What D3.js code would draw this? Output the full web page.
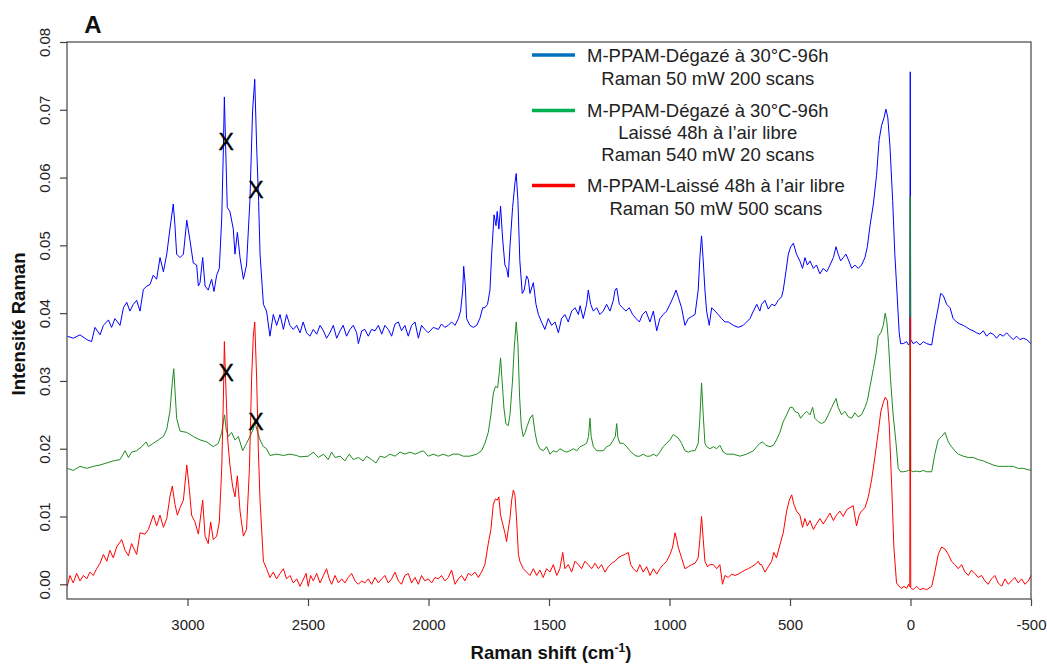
<!DOCTYPE html>
<html><head><meta charset="utf-8">
<script src="https://cdn.jsdelivr.net/npm/d3@7"></script>
<style>
body{margin:0;background:#fff;}
svg{display:block;font-family:"Liberation Sans",Arial,sans-serif;}
</style></head>
<body><svg id="c" width="1047" height="664"></svg>
<script>
// Raman shift (cm-1) / intensity pairs
const blueSeries = [
[3499,0.0366],[3474,0.0363],[3446,0.0368],[3418,0.0361],[3398,0.0358],[3384,0.0379],[3363,0.0368],[3349,0.0382],[3328,0.0390],[3315,0.0379],[3301,0.0392],[3280,0.0382],[3266,0.0408],[3252,0.0416],[3239,0.0403],[3225,0.0413],[3211,0.0419],[3197,0.0403],[3183,0.0435],[3169,0.0440],[3156,0.0442],[3142,0.0456],[3128,0.0450],[3114,0.0482],[3100,0.0461],[3086,0.0487],[3073,0.0524],[3059,0.0561],[3052,0.0529],[3045,0.0487],[3031,0.0482],[3017,0.0487],[3003,0.0537],[2990,0.0508],[2976,0.0474],[2962,0.0471],[2955,0.0440],[2948,0.0445],[2937,0.0482],[2927,0.0440],[2914,0.0434],[2900,0.0450],[2890,0.0432],[2879,0.0456],[2868,0.0466],[2858,0.0540],[2851,0.0645],[2847,0.0719],[2842,0.0651],[2835,0.0556],[2824,0.0550],[2810,0.0524],[2803,0.0487],[2793,0.0519],[2782,0.0482],[2768,0.0450],[2755,0.0471],[2741,0.0566],[2730,0.0698],[2721,0.0745],[2713,0.0645],[2705,0.0566],[2699,0.0487],[2685,0.0413],[2672,0.0403],[2658,0.0366],[2644,0.0398],[2630,0.0382],[2616,0.0398],[2602,0.0376],[2589,0.0398],[2575,0.0382],[2561,0.0376],[2547,0.0382],[2533,0.0371],
[2520,0.0387],[2506,0.0371],[2492,0.0366],[2478,0.0376],[2464,0.0369],[2450,0.0382],[2436,0.0374],[2423,0.0363],[2409,0.0371],[2395,0.0382],[2381,0.0363],[2367,0.0374],[2354,0.0382],[2340,0.0366],[2326,0.0376],[2312,0.0382],[2298,0.0371],[2291,0.0355],[2277,0.0374],[2264,0.0376],[2250,0.0366],[2236,0.0376],[2222,0.0374],[2208,0.0382],[2194,0.0369],[2181,0.0382],[2167,0.0376],[2153,0.0366],[2139,0.0384],[2125,0.0387],[2112,0.0374],[2098,0.0382],[2084,0.0366],[2070,0.0382],[2056,0.0387],[2042,0.0363],[2029,0.0382],[2015,0.0376],[2001,0.0371],[1980,0.0379],[1959,0.0376],[1946,0.0384],[1932,0.0379],[1918,0.0382],[1904,0.0387],[1890,0.0382],[1876,0.0392],[1867,0.0403],[1858,0.0434],[1854,0.0469],[1847,0.0440],[1842,0.0392],[1828,0.0382],[1814,0.0379],[1800,0.0382],[1787,0.0392],[1775,0.0408],[1766,0.0408],[1755,0.0413],[1745,0.0434],[1738,0.0487],[1728,0.0545],[1720,0.0529],[1715,0.0550],[1708,0.0524],[1701,0.0558],[1692,0.0508],[1683,0.0471],[1676,0.0466],[1669,0.0453],[1662,0.0498],[1651,0.0556],[1641,0.0593],[1636,0.0606],[1629,0.0566],[1621,0.0477],[1611,0.0429],[1603,0.0434],[1593,0.0455],[1586,0.0450],[1579,0.0429],
[1565,0.0445],[1554,0.0413],[1544,0.0398],[1531,0.0387],[1517,0.0376],[1503,0.0392],[1489,0.0382],[1475,0.0387],[1461,0.0371],[1448,0.0392],[1434,0.0398],[1420,0.0387],[1406,0.0403],[1392,0.0408],[1378,0.0398],[1371,0.0411],[1358,0.0392],[1344,0.0413],[1337,0.0434],[1327,0.0413],[1316,0.0403],[1302,0.0408],[1289,0.0398],[1275,0.0403],[1261,0.0413],[1247,0.0403],[1233,0.0419],[1226,0.0434],[1219,0.0437],[1208,0.0413],[1195,0.0408],[1181,0.0403],[1167,0.0408],[1153,0.0398],[1139,0.0392],[1125,0.0387],[1112,0.0398],[1098,0.0403],[1081,0.0387],[1067,0.0403],[1053,0.0374],[1040,0.0392],[1026,0.0398],[1012,0.0403],[998,0.0413],[984,0.0424],[973,0.0434],[964,0.0424],[950,0.0408],[936,0.0382],[922,0.0392],[908,0.0395],[894,0.0398],[881,0.0434],[874,0.0482],[867,0.0514],[860,0.0477],[853,0.0434],[846,0.0403],[835,0.0382],[825,0.0408],[811,0.0403],[798,0.0398],[784,0.0392],[770,0.0387],[756,0.0387],[735,0.0382],[715,0.0379],[694,0.0382],[680,0.0387],[666,0.0392],[652,0.0403],[638,0.0413],[625,0.0403],
[618,0.0413],[604,0.0419],[590,0.0406],[576,0.0413],[562,0.0411],[549,0.0419],[535,0.0424],[528,0.0434],[517,0.0461],[507,0.0487],[497,0.0498],[486,0.0503],[473,0.0487],[459,0.0477],[448,0.0466],[438,0.0482],[428,0.0471],[417,0.0477],[403,0.0466],[390,0.0471],[376,0.0458],[362,0.0466],[348,0.0461],[334,0.0471],[320,0.0482],[309,0.0498],[300,0.0487],[290,0.0477],[279,0.0482],[268,0.0487],[258,0.0479],[244,0.0466],[231,0.0471],[217,0.0466],[203,0.0471],[189,0.0482],[179,0.0498],[168,0.0529],[154,0.0561],[141,0.0603],[130,0.0656],[120,0.0677],[110,0.0688],[102,0.0701],[94,0.0688],[85,0.0645],[74,0.0566],[65,0.0487],[55,0.0424],[47,0.0371],[41,0.0355],[30,0.0355],[16,0.0358],[8,0.0353],[3,0.0356],[1,0.0756],[-1,0.0361],[-11,0.0355],[-25,0.0358],[-39,0.0353],[-53,0.0358],[-67,0.0355],[-88,0.0353],[-101,0.0382],[-115,0.0408],[-125,0.0429],[-136,0.0426],[-150,0.0413],[-164,0.0408],[-177,0.0392],[-191,0.0387],[-205,0.0384],[-219,0.0382],[-233,0.0379],[-246,0.0376],[-260,0.0374],[-274,0.0371],[-288,0.0369],[-302,0.0374],[-316,0.0366],[-330,0.0371],[-343,0.0369],[-357,0.0363],[-371,0.0369],[-385,0.0366],[-399,0.0371],[-412,0.0366],[-426,0.0361],[-440,0.0366],[-454,0.0361],[-468,0.0363],[-482,0.0361],[-500,0.0355]
];
const greenSeries = [
[3499,0.0171],[3474,0.0168],[3446,0.0174],[3418,0.0171],[3391,0.0174],[3363,0.0176],[3335,0.0179],[3308,0.0182],[3280,0.0184],[3259,0.0197],[3245,0.0187],[3232,0.0195],[3211,0.0197],[3190,0.0203],[3172,0.0210],[3162,0.0203],[3142,0.0208],[3121,0.0213],[3100,0.0218],[3086,0.0229],[3073,0.0255],[3063,0.0298],[3057,0.0318],[3052,0.0287],[3045,0.0245],[3031,0.0226],[3003,0.0224],[2976,0.0218],[2948,0.0213],[2920,0.0210],[2893,0.0203],[2872,0.0208],[2858,0.0224],[2851,0.0240],[2846,0.0250],[2840,0.0229],[2831,0.0218],[2817,0.0224],[2803,0.0213],[2789,0.0218],[2771,0.0197],[2755,0.0208],[2741,0.0218],[2727,0.0229],[2720,0.0240],[2713,0.0229],[2699,0.0213],[2685,0.0203],[2672,0.0200],[2658,0.0190],[2630,0.0192],[2602,0.0190],[2575,0.0192],[2547,0.0190],[2533,0.0188],
[2499,0.0189],[2478,0.0195],[2457,0.0187],[2436,0.0192],[2416,0.0184],[2402,0.0195],[2388,0.0187],[2367,0.0189],[2347,0.0182],[2329,0.0192],[2312,0.0184],[2291,0.0187],[2271,0.0182],[2257,0.0189],[2236,0.0184],[2218,0.0179],[2201,0.0189],[2181,0.0187],[2160,0.0192],[2139,0.0189],[2118,0.0195],[2098,0.0192],[2077,0.0195],[2056,0.0192],[2036,0.0195],[2022,0.0197],[2001,0.0189],[1980,0.0192],[1959,0.0189],[1939,0.0192],[1918,0.0189],[1897,0.0192],[1876,0.0192],[1856,0.0189],[1828,0.0189],[1800,0.0192],[1780,0.0197],[1766,0.0208],[1752,0.0224],[1741,0.0250],[1731,0.0282],[1722,0.0292],[1713,0.0290],[1706,0.0313],[1701,0.0334],[1694,0.0297],[1687,0.0260],[1679,0.0237],[1669,0.0234],[1662,0.0250],[1652,0.0297],[1644,0.0350],[1636,0.0387],[1629,0.0355],[1622,0.0276],[1615,0.0234],[1607,0.0218],[1599,0.0224],[1590,0.0234],
[1579,0.0245],[1568,0.0250],[1558,0.0224],[1549,0.0208],[1538,0.0200],[1524,0.0197],[1510,0.0203],[1496,0.0192],[1482,0.0197],[1468,0.0195],[1455,0.0200],[1441,0.0197],[1427,0.0195],[1413,0.0197],[1399,0.0200],[1385,0.0197],[1371,0.0203],[1358,0.0205],[1344,0.0208],[1336,0.0218],[1330,0.0245],[1325,0.0218],[1316,0.0203],[1302,0.0197],[1289,0.0197],[1275,0.0197],[1261,0.0203],[1247,0.0205],[1233,0.0213],[1225,0.0218],[1219,0.0237],[1214,0.0216],[1206,0.0208],[1192,0.0208],[1178,0.0203],[1164,0.0197],[1150,0.0192],[1136,0.0189],[1123,0.0189],[1109,0.0192],[1095,0.0189],[1081,0.0189],[1067,0.0192],[1053,0.0189],[1040,0.0195],[1026,0.0203],[1012,0.0208],[998,0.0213],[984,0.0221],[973,0.0218],[964,0.0216],[950,0.0208],[936,0.0197],[922,0.0195],[908,0.0197],[894,0.0197],[881,0.0208],[874,0.0245],[867,0.0297],[860,0.0250],[853,0.0208],[846,0.0203],[832,0.0200],[818,0.0203],[804,0.0200],[791,0.0205],[777,0.0195],[763,0.0192],[735,0.0192],[708,0.0189],[680,0.0192],[652,0.0197],[638,0.0203],[625,0.0208],
[614,0.0210],[600,0.0205],[583,0.0203],[569,0.0205],[556,0.0213],[542,0.0224],[528,0.0240],[514,0.0250],[500,0.0261],[489,0.0261],[480,0.0255],[466,0.0253],[456,0.0245],[445,0.0250],[431,0.0255],[417,0.0250],[406,0.0261],[397,0.0245],[383,0.0240],[369,0.0237],[355,0.0240],[341,0.0250],[327,0.0261],[309,0.0274],[300,0.0261],[286,0.0250],[272,0.0255],[258,0.0247],[244,0.0245],[231,0.0253],[217,0.0247],[203,0.0250],[189,0.0261],[179,0.0271],[168,0.0292],[154,0.0318],[143,0.0340],[134,0.0366],[123,0.0371],[113,0.0382],[105,0.0400],[98,0.0387],[91,0.0355],[83,0.0303],[72,0.0250],[60,0.0208],[51,0.0171],[41,0.0166],[30,0.0166],[16,0.0167],[8,0.0168],[3,0.0168],[1,0.0572],[-1,0.0168],[-11,0.0166],[-25,0.0167],[-39,0.0166],[-53,0.0168],[-67,0.0166],[-88,0.0166],[-101,0.0192],[-115,0.0213],[-129,0.0218],[-143,0.0224],[-157,0.0210],[-170,0.0203],[-184,0.0197],[-198,0.0192],[-219,0.0189],[-240,0.0187],[-260,0.0187],[-281,0.0184],[-302,0.0182],[-322,0.0179],[-343,0.0176],[-364,0.0174],[-385,0.0174],[-406,0.0174],[-426,0.0174],[-447,0.0171],[-468,0.0171],[-500,0.0168]
];
const redSeries = [
[3499,-0.0003],[3488,0.0013],[3474,0.0002],[3460,0.0016],[3446,0.0005],[3432,0.0013],[3418,0.0008],[3405,0.0018],[3391,0.0013],[3377,0.0023],[3363,0.0031],[3349,0.0044],[3335,0.0034],[3322,0.0050],[3308,0.0039],[3294,0.0055],[3273,0.0066],[3259,0.0050],[3245,0.0042],[3232,0.0060],[3211,0.0044],[3197,0.0076],[3176,0.0074],[3162,0.0081],[3142,0.0102],[3128,0.0086],[3114,0.0102],[3100,0.0084],[3086,0.0097],[3073,0.0129],[3063,0.0145],[3052,0.0118],[3042,0.0102],[3031,0.0113],[3017,0.0124],[3003,0.0176],[2992,0.0139],[2983,0.0102],[2969,0.0092],[2955,0.0074],[2937,0.0124],[2927,0.0071],[2914,0.0060],[2904,0.0092],[2893,0.0066],[2879,0.0071],[2868,0.0092],[2858,0.0171],[2851,0.0276],[2847,0.0358],[2842,0.0303],[2833,0.0213],[2824,0.0176],[2813,0.0145],[2803,0.0129],[2793,0.0160],[2782,0.0108],[2768,0.0071],[2755,0.0081],[2743,0.0171],[2734,0.0303],[2727,0.0366],[2721,0.0387],[2713,0.0303],[2706,0.0197],[2699,0.0124],[2685,0.0034],[2672,0.0023],[2658,0.0010],[2644,0.0018],[2630,0.0008],[2616,0.0016],[2602,0.0023],[2589,0.0008],[2575,0.0013],[2561,0.0002],[2547,0.0008],[2533,-0.0003],
[2508,0.0016],[2499,-0.0003],[2489,0.0013],[2478,0.0005],[2464,0.0016],[2450,0.0002],[2436,0.0013],[2423,0.0023],[2412,0.0008],[2402,0.0000],[2388,0.0013],[2374,0.0002],[2360,0.0008],[2347,0.0002],[2333,0.0010],[2319,0.0016],[2305,0.0005],[2291,0.0000],[2277,0.0005],[2264,0.0002],[2250,0.0008],[2236,0.0000],[2222,0.0010],[2208,0.0002],[2194,0.0008],[2181,0.0013],[2167,0.0002],[2153,0.0008],[2139,0.0018],[2125,0.0005],[2112,0.0000],[2098,0.0013],[2084,0.0016],[2070,0.0002],[2056,0.0010],[2042,0.0000],[2029,0.0013],[2015,0.0005],[2001,0.0008],[1987,0.0002],[1973,0.0010],[1959,0.0008],[1946,0.0013],[1932,0.0005],[1918,0.0010],[1904,0.0021],[1890,0.0000],[1876,0.0008],[1863,0.0013],[1849,0.0005],[1835,0.0016],[1821,0.0013],[1807,0.0018],[1793,0.0010],[1780,0.0018],[1766,0.0029],[1752,0.0060],[1741,0.0081],[1731,0.0118],[1722,0.0126],[1715,0.0124],[1708,0.0129],[1701,0.0102],[1690,0.0086],[1683,0.0076],[1676,0.0063],[1669,0.0081],[1662,0.0097],[1655,0.0124],[1648,0.0139],[1641,0.0131],[1634,0.0092],[1627,0.0044],[1621,0.0034],[1607,0.0023],[1593,0.0018],[1579,0.0013],
[1565,0.0023],[1551,0.0013],[1538,0.0021],[1524,0.0010],[1510,0.0023],[1496,0.0018],[1482,0.0029],[1468,0.0013],[1455,0.0023],[1443,0.0047],[1434,0.0023],[1420,0.0029],[1406,0.0018],[1392,0.0034],[1378,0.0029],[1365,0.0023],[1351,0.0034],[1337,0.0029],[1323,0.0023],[1309,0.0031],[1295,0.0023],[1282,0.0029],[1268,0.0018],[1254,0.0026],[1240,0.0031],[1226,0.0034],[1213,0.0039],[1199,0.0042],[1185,0.0044],[1171,0.0047],[1161,0.0029],[1150,0.0023],[1136,0.0018],[1123,0.0029],[1109,0.0018],[1095,0.0026],[1081,0.0013],[1067,0.0023],[1053,0.0015],[1040,0.0023],[1026,0.0029],[1012,0.0034],[998,0.0044],[987,0.0055],[977,0.0076],[970,0.0066],[964,0.0055],[950,0.0039],[936,0.0023],[922,0.0026],[908,0.0029],[894,0.0031],[881,0.0039],[874,0.0066],[867,0.0100],[860,0.0066],[853,0.0034],[843,0.0026],[832,0.0029],[818,0.0029],[804,0.0023],[791,0.0029],[780,0.0000],[770,0.0013],[756,0.0010],[742,0.0015],[728,0.0013],[715,0.0015],[701,0.0018],[687,0.0021],[673,0.0023],[659,0.0026],[645,0.0029],[632,0.0034],[625,0.0029],
[618,0.0029],[604,0.0018],[590,0.0026],[576,0.0034],[567,0.0047],[556,0.0039],[542,0.0058],[528,0.0076],[514,0.0108],[503,0.0124],[493,0.0132],[484,0.0118],[473,0.0108],[459,0.0102],[448,0.0084],[438,0.0097],[428,0.0086],[417,0.0094],[403,0.0081],[390,0.0089],[376,0.0097],[362,0.0089],[348,0.0097],[334,0.0105],[320,0.0094],[307,0.0102],[293,0.0108],[279,0.0100],[265,0.0110],[251,0.0113],[238,0.0116],[224,0.0086],[213,0.0102],[203,0.0108],[189,0.0113],[175,0.0129],[161,0.0155],[148,0.0187],[134,0.0224],[123,0.0255],[113,0.0268],[105,0.0276],[96,0.0271],[88,0.0234],[78,0.0145],[69,0.0055],[58,0.0002],[47,-0.0003],[37,-0.0006],[27,-0.0003],[16,-0.0006],[8,0.0000],[3,-0.0004],[1,0.0394],[-1,-0.0005],[-11,-0.0008],[-25,-0.0003],[-39,-0.0008],[-53,-0.0006],[-67,-0.0008],[-88,-0.0003],[-101,0.0018],[-115,0.0044],[-129,0.0055],[-143,0.0052],[-157,0.0044],[-170,0.0034],[-184,0.0029],[-198,0.0023],[-212,0.0029],[-226,0.0018],[-240,0.0013],[-253,0.0021],[-267,0.0016],[-281,0.0010],[-295,0.0013],[-309,0.0005],[-322,0.0000],[-336,0.0008],[-350,0.0013],[-364,0.0002],[-378,-0.0003],[-392,0.0008],[-406,0.0000],[-419,0.0005],[-433,0.0010],[-447,0.0002],[-461,0.0008],[-475,0.0000],[-489,0.0005],[-500,0.0013]
];
const seriesNames = [
  ["M-PPAM-Dégazé à 30°C-96h","Raman 50 mW 200 scans"],
  ["M-PPAM-Dégazé à 30°C-96h","Laissé 48h à l’air libre","Raman 540 mW 20 scans"],
  ["M-PPAM-Laissé 48h à l’air libre","Raman 50 mW 500 scans"]
];
const xTicks = [3000,2500,2000,1500,1000,500,0,-500];
const yTicks = [0.00,0.01,0.02,0.03,0.04,0.05,0.06,0.07,0.08];
// cross marks on the C–H bands
const markShift = [2840,2716,2840,2716];
const markIntensity = [0.0652,0.0582,0.0312,0.0240];

(function(){
const svg = d3.select("#c");
const pL=67,pR=1031,pT=42,pB=599;
const x = d3.scaleLinear().domain([3500,-500]).range([pL,pR]);
const y = d3.scaleLinear().domain([-0.00217,0.08]).range([pB,pT]);
const font = '"Liberation Sans",Arial,sans-serif';

const lineColors = ["#0000ff","#1f8a1f","#ff0000"];
const legendColors = ["#0070c0","#00b050","#ff0000"];
const line = d3.line().x(d=>x(d[0])).y(d=>y(d[1]));

const g = svg.append("g");
[blueSeries,greenSeries,redSeries].forEach((s,i)=>{
  g.append("path").datum(s).attr("d",line).attr("fill","none")
   .attr("stroke",lineColors[i]).attr("stroke-width",1).attr("stroke-linejoin","round");
});

svg.append("rect").attr("x",pL).attr("y",pT).attr("width",pR-pL).attr("height",pB-pT)
  .attr("fill","none").attr("stroke","#444").attr("stroke-width",1.2);

const xa = svg.append("g").attr("transform",`translate(0,${pB})`)
  .call(d3.axisBottom(x).tickValues(xTicks).tickSize(7).tickFormat(d=>String(d)));
xa.select(".domain").remove();
xa.selectAll("line").attr("stroke","#444").attr("stroke-width",1.2);
xa.selectAll("text").attr("font-family",font).attr("font-size",15).attr("fill","#222").attr("dy",null).attr("y",31);

const ya = svg.append("g").attr("transform",`translate(${pL},0)`)
  .call(d3.axisLeft(y).tickValues(yTicks).tickSize(7).tickFormat(d3.format(".2f")));
ya.select(".domain").remove();
ya.selectAll("line").attr("stroke","#444").attr("stroke-width",1.2);
ya.selectAll("text").attr("font-family",font).attr("font-size",15).attr("fill","#222")
  .attr("x",null).attr("dy",null).attr("text-anchor","middle")
  .attr("transform","translate(-17,0) rotate(-90)");

svg.append("text").attr("x",551).attr("y",659).attr("text-anchor","middle")
  .attr("font-family",font).attr("font-weight","bold").attr("font-size",18.5).attr("fill","#111")
  .call(t=>{t.append("tspan").text("Raman shift (cm");
            t.append("tspan").attr("font-size",12).attr("dy",-7).text("-1");
            t.append("tspan").attr("dy",7).text(")");});
svg.append("text").attr("transform","translate(25,324) rotate(-90)").attr("text-anchor","middle")
  .attr("font-family",font).attr("font-weight","bold").attr("font-size",18.5).attr("fill","#111")
  .text("Intensité Raman");
svg.append("text").attr("x",93).attr("y",33).attr("text-anchor","middle")
  .attr("font-family",font).attr("font-weight","bold").attr("font-size",24).attr("fill","#111").text("A");

markShift.forEach((m,i)=>{
  svg.append("text").attr("x",x(m)).attr("y",y(markIntensity[i])).attr("text-anchor","middle")
    .attr("dominant-baseline","central").attr("font-family",font).attr("font-size",23)
    .attr("fill","#000").attr("stroke","#000").attr("stroke-width",0.4).text("X");
});

const legendLineY = [55,110.5,185.5];
const legendTextY = [[61.5,84.5],[116.5,138.5,161],[192,214.5]];
const textLeft = 587;
seriesNames.forEach((lines,i)=>{
  svg.append("line").attr("x1",532).attr("x2",575).attr("y1",legendLineY[i]).attr("y2",legendLineY[i])
    .attr("stroke",legendColors[i]).attr("stroke-width",3.5);
  const texts = lines.map((s,j)=>svg.append("text").attr("y",legendTextY[i][j]).attr("text-anchor","middle")
    .attr("font-family",font).attr("font-size",18.5).attr("fill","#222").text(s));
  const w = d3.max(texts,t=>t.node().getComputedTextLength());
  texts.forEach(t=>t.attr("x",textLeft+w/2));
});
})();
</script></body></html>
